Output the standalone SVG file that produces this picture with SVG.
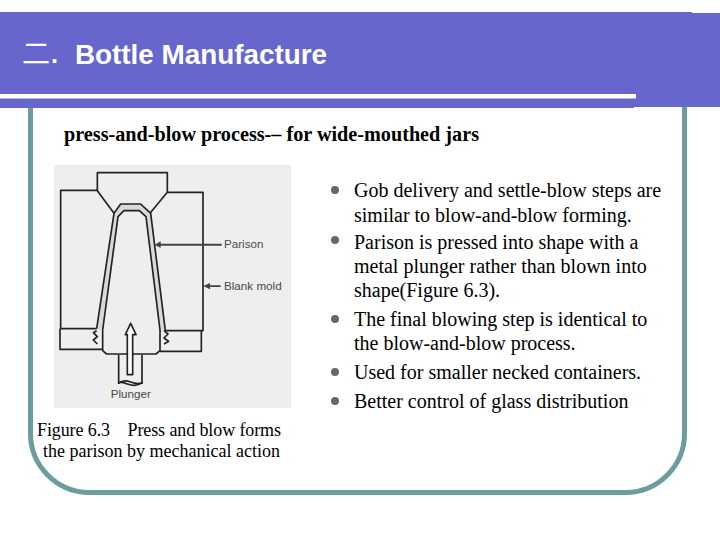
<svg xmlns="http://www.w3.org/2000/svg" width="720" height="540" viewBox="0 0 720 540">
<style>
.t{font-family:"Liberation Serif","Times New Roman",serif;fill:#000}
.b{font-size:20px}
.c{font-size:18px}
.d{fill:#676767}
.l{font-family:"Liberation Sans",Arial,sans-serif;fill:#4a4a4a;font-size:35px}
.k{fill:none;stroke:#222;stroke-width:5;stroke-linejoin:round}
</style>
<rect width="720" height="540" fill="#fff"/>
<path d="M30.5 100V433A59 59 0 0 0 89.500 492.500H625.500A59 59 0 0 0 684.500 433V100" fill="none" stroke="#6c9c9c" stroke-width="5"/>
<path d="M0 12H692V13H720V107H634V108H0Z" fill="#6666cc"/>
<rect x="0" y="94" width="636" height="4.500" fill="#fff"/>
<text x="22" y="64" font-family="'Noto Sans CJK SC',sans-serif" font-size="28" font-weight="400" fill="#fff">二</text>
<text x="51" y="63" font-family="'Liberation Sans',Arial,sans-serif" font-size="25" font-weight="700" fill="#fff">.</text>
<text x="75" y="64" font-family="'Liberation Sans',Arial,sans-serif" font-size="28" font-weight="700" fill="#fff" textLength="252" lengthAdjust="spacingAndGlyphs">Bottle Manufacture</text>
<text class="t" x="64" y="141" font-size="20" font-weight="700" textLength="415" lengthAdjust="spacingAndGlyphs">press-and-blow process-– for wide-mouthed jars</text>
<rect x="54" y="165" width="237" height="243" fill="#eeeeee"/>
<g transform="translate(40 160) scale(.33333)">
<path class="k" d="M172 92V38H382V97L328 162M172 92L222 160"/>
<path class="k" d="M172 91H62V506H170M382 97H489V512H376"/>
<path class="k" d="M60 506V568H186M484 512V574H360"/>
<path d="M170 506L222 160L242 132H302L332 160L376 512L362 512L318 170L298 152H252L234 170L188 510Z" fill="#d9d9d9"/>
<path class="k" d="M170 506L222 160L242 132H302L332 160L376 512"/>
<path class="k" d="M188 510L234 170L252 152H298L318 170L360 510V572L348 582H200L188 572Z"/>
<path class="k" d="M170 512L160 518L172 530L160 540L172 552M372 512L384 522L372 534L386 544L372 552" stroke-width="3"/>
<path class="k" d="M236 584V672M306 584V672"/>
<path class="k" d="M236 670Q250 658 272 666T306 668Q290 682 262 672T236 670" stroke-width="3"/>
<path d="M272 490L288 524H278V644H262V524H256Z" fill="#fff" stroke="#222" stroke-width="5" stroke-linejoin="round"/>
<path d="M344 254L362 244V251H545V257H362V264Z" fill="#444"/>
<path d="M490 378L510 369V376H542V381H510V388Z" fill="#444"/>
<text class="l" x="552" y="265">Parison</text>
<text class="l" x="552" y="390">Blank mold</text>
<text class="l" x="212" y="715">Plunger</text>
</g>
<g class="t c">
<text x="37" y="436" xml:space="preserve" textLength="244">Figure 6.3    Press and blow forms</text>
<text x="43" y="457">the parison by mechanical action</text>
</g>
<circle class="d" cx="335" cy="190" r="4"/>
<circle class="d" cx="335" cy="240" r="4"/>
<circle class="d" cx="335" cy="319" r="4"/>
<circle class="d" cx="335" cy="372" r="4"/>
<circle class="d" cx="335" cy="401" r="4"/>
<g class="t b">
<text x="354" y="197">Gob delivery and settle-blow steps are</text>
<text x="354" y="222">similar to blow-and-blow forming.</text>
<text x="354" y="249">Parison is pressed into shape with a</text>
<text x="354" y="273">metal plunger rather than blown into</text>
<text x="354" y="297">shape(Figure 6.3).</text>
<text x="354" y="326">The final blowing step is identical to</text>
<text x="354" y="350">the blow-and-blow process.</text>
<text x="354" y="379">Used for smaller necked containers.</text>
<text x="354" y="408">Better control of glass distribution</text>
</g>
</svg>
